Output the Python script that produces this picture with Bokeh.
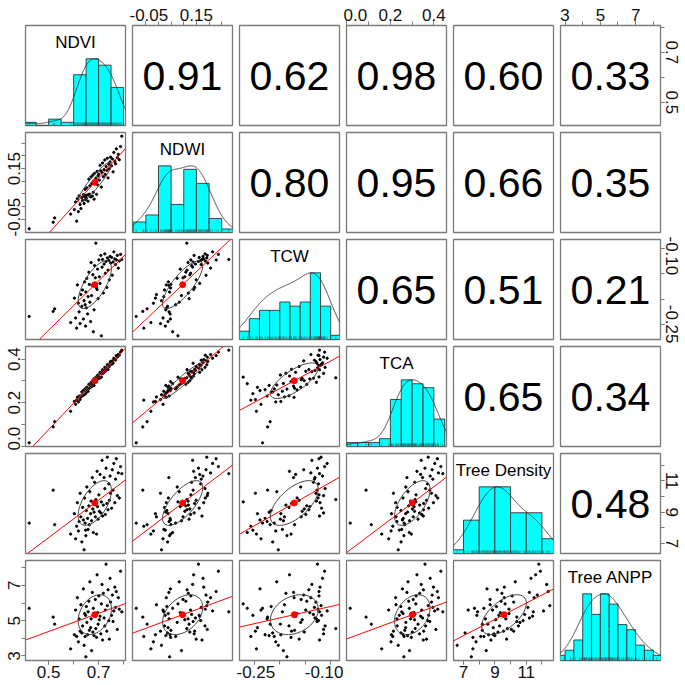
import numpy as np
from bokeh.plotting import figure
from bokeh.layouts import gridplot
from bokeh.models import Range1d, LinearAxis, FixedTicker, Slope, PrintfTickFormatter
from bokeh.embed import file_html
from bokeh.resources import INLINE
from bokeh.core.properties import value

# ---------------- data ----------------
names = ["NDVI", "NDWI", "TCW", "TCA", "Tree Density", "Tree ANPP"]

ndvi = [0.422, 0.518, 0.524, 0.588, 0.603, 0.608, 0.612, 0.615, 0.619, 0.622,
        0.626, 0.629, 0.633, 0.636, 0.639, 0.642, 0.644, 0.646, 0.648, 0.649,
        0.651, 0.653, 0.656, 0.658, 0.661, 0.663, 0.665, 0.668, 0.670, 0.672,
        0.675, 0.677, 0.679, 0.682, 0.684, 0.687, 0.689, 0.692, 0.694, 0.696,
        0.698, 0.701, 0.703, 0.706, 0.709, 0.711, 0.714, 0.716, 0.719, 0.722,
        0.725, 0.727, 0.730, 0.733, 0.735, 0.738, 0.741, 0.743, 0.746, 0.748,
        0.752, 0.755, 0.758, 0.761, 0.765, 0.768, 0.771, 0.775, 0.779, 0.783,
        0.788, 0.793]

ndwi = [-0.088, -0.062, -0.045, -0.030, -0.012, 0.018, -0.058, 0.031, -0.020, 0.042,
        0.008, -0.008, 0.036, 0.024, 0.047, 0.012, 0.039, 0.068, 0.027, 0.044,
        0.033, 0.074, 0.046, 0.021, 0.108, 0.049, 0.082, 0.038, 0.117, 0.091,
        0.041, 0.124, 0.056, 0.029, 0.131, 0.097, 0.112, 0.048, 0.139, 0.086,
        0.121, 0.128, 0.104, 0.163, 0.141, 0.077, 0.135, 0.172, 0.118, 0.146,
        0.184, 0.127, 0.158, 0.143, 0.191, 0.113, 0.167, 0.149, 0.176, 0.195,
        0.161, 0.188, 0.137, 0.214, 0.179, 0.169, 0.228, 0.193, 0.206, 0.185,
        0.237, 0.278]

tcw = [-0.234, -0.224, -0.219, -0.246, -0.198, -0.237, -0.257, -0.172, -0.208, -0.225,
       -0.248, -0.191, -0.214, -0.182, -0.239, -0.203, -0.166, -0.211, -0.253, -0.186,
       -0.217, -0.159, -0.229, -0.195, -0.147, -0.171, -0.206, -0.244, -0.128, -0.193,
       -0.173, -0.152, -0.264, -0.221, -0.134, -0.158, -0.090, -0.178, -0.181, -0.141,
       -0.199, -0.123, -0.156, -0.169, -0.114, -0.272, -0.137, -0.122, -0.188, -0.131,
       -0.111, -0.149, -0.126, -0.177, -0.119, -0.143, -0.124, -0.162, -0.116, -0.129,
       -0.118, -0.153, -0.127, -0.107, -0.121, -0.132, -0.123, -0.114, -0.139, -0.125,
       -0.112, -0.122]

tca = [0.015, 0.088, 0.112, 0.160, 0.205, 0.192, 0.211, 0.224, 0.203, 0.230,
       0.214, 0.226, 0.249, 0.231, 0.255, 0.236, 0.258, 0.263, 0.241, 0.262,
       0.248, 0.271, 0.259, 0.252, 0.284, 0.266, 0.281, 0.270, 0.293, 0.288,
       0.276, 0.301, 0.287, 0.279, 0.312, 0.305, 0.314, 0.296, 0.322, 0.309,
       0.327, 0.318, 0.311, 0.339, 0.334, 0.317, 0.342, 0.351, 0.335, 0.348,
       0.362, 0.344, 0.359, 0.353, 0.374, 0.352, 0.371, 0.366, 0.383, 0.389,
       0.376, 0.392, 0.381, 0.404, 0.398, 0.395, 0.416, 0.409, 0.421, 0.418,
       0.432, 0.441]

tree_density = [8.3, 10.4, 8.2, 7.6, 8.9, 7.3, 8.1, 9.6, 7.8, 8.4,
                10.2, 8.7, 7.1, 9.3, 8.5, 6.6, 9.9, 8.3, 7.85, 7.5,
                9.1, 10.6, 8.6, 7.9, 9.4, 8.2, 10.3, 8.9, 9.7, 8.45,
                11.2, 9.2, 7.7, 9.0, 10.9, 8.7, 9.8, 7.6, 11.6, 9.35,
                8.55, 10.1, 9.05, 11.4, 8.95, 9.65, 12.3, 8.75, 9.45, 11.2,
                10.5, 8.85, 11.8, 9.55, 12.5, 9.15, 10.8, 9.75, 11.3, 10.2,
                9.25, 11.7, 10.4, 12.1, 9.6, 11.1, 12.4, 10.05, 11.5, 9.9,
                11.9, 11.45]

tree_anpp = [5.7, 5.2, 4.8, 3.4, 4.2, 5.6, 4.1, 6.3, 3.8, 5.1,
             4.4, 5.9, 4.3, 4.7, 6.8, 3.6, 5.4, 4.1, 5.3, 2.95,
             5.8, 4.9, 4.2, 5.5, 6.1, 4.45, 7.2, 4.6, 5.1, 3.3,
             6.6, 4.35, 5.7, 4.15, 5.35, 6.2, 4.55, 4.05, 7.6, 5.45,
             4.8, 6.4, 5.05, 5.25, 4.25, 5.95, 7.05, 3.9, 6.55, 5.15,
             4.7, 5.6, 8.2, 4.4, 5.85, 6.75, 5.0, 3.95, 7.4, 6.05,
             5.3, 6.45, 4.95, 5.55, 6.9, 5.75, 6.65, 4.5, 6.3, 5.65,
             7.8, 5.5]

# upper-triangle correlations, row by row
cor_values = [0.91, 0.62, 0.98, 0.60, 0.33,
              0.80, 0.95, 0.66, 0.35,
              0.65, 0.51, 0.21,
              0.65, 0.34,
              0.48]

bin_widths = [0.05, 0.05, 0.02, 0.05, 1.0, 0.5]
labeled_ticks = [[0.5, 0.7], [-0.05, 0.15], [-0.25, -0.10], [0.0, 0.2, 0.4], [7, 9, 11], [3, 5, 7]]
all_ticks = [[0.5, 0.6, 0.7, 0.8],
             [-0.05, 0.0, 0.05, 0.10, 0.15, 0.20, 0.25],
             [-0.25, -0.20, -0.15, -0.10],
             [0.0, 0.1, 0.2, 0.3, 0.4],
             [7, 8, 9, 10, 11, 12],
             [3, 4, 5, 6, 7, 8]]
tick_formats = ["%.1f", "%.2f", "%.2f", "%.1f", "%d", "%d"]

# ---------------- helpers ----------------
FONT = "Liberation Sans"
P = 100
N = 6
BOX = "#7a7a7a"
OUT = 25

data = [np.array(v, float) for v in [ndvi, ndwi, tcw, tca, tree_density, tree_anpp]]
ranges = []
for x in data:
    lo, hi = x.min(), x.max()
    pad = 0.04 * (hi - lo)
    ranges.append((lo - pad, hi + pad))

cor_text = {}
k = 0
for i in range(N):
    for j in range(i + 1, N):
        cor_text[(i, j)] = f"{cor_values[k]:.2f}"
        k += 1


def hist_counts(x, w):
    start = np.floor(x.min() / w + 1e-9) * w
    end = np.ceil(x.max() / w - 1e-9) * w
    nb = int(round((end - start) / w))
    edges = np.round(start + w * np.arange(nb + 1), 10)
    counts = []
    for b in range(nb):
        if b == 0:
            m = (x >= edges[0] - 1e-12) & (x <= edges[1] + 1e-12)
        else:
            m = (x > edges[b] + 1e-12) & (x <= edges[b + 1] + 1e-12)
        counts.append(m.sum())
    return edges, np.array(counts, float)


def density(x):
    n = len(x)
    sd = x.std(ddof=1)
    q1, q3 = np.percentile(x, [25, 75])
    bw = 1.06 * min(sd, (q3 - q1) / 1.34) * n ** -0.2 * 1.2
    gx = np.linspace(x.min() - 3 * bw, x.max() + 3 * bw, 512)
    gy = np.exp(-0.5 * ((gx[:, None] - x[None, :]) / bw) ** 2).sum(axis=1)
    return gx, gy / gy.max()


def add_axis(p, var, side):
    ticker = FixedTicker(ticks=labeled_ticks[var], minor_ticks=all_ticks[var])
    ax = LinearAxis(ticker=ticker, bounds=(min(all_ticks[var]), max(all_ticks[var])),
                    formatter=PrintfTickFormatter(format=tick_formats[var]))
    ax.major_tick_out = 4
    ax.major_tick_in = 0
    ax.minor_tick_out = 4
    ax.minor_tick_in = 0
    ax.major_label_standoff = 1
    ax.major_label_text_font = FONT
    ax.major_label_text_font_size = "17px"
    ax.major_label_text_color = "#111111"
    ax.axis_line_color = BOX
    ax.major_tick_line_color = BOX
    ax.minor_tick_line_color = BOX
    ax.axis_line_width = 1
    if side in ("left", "right"):
        ax.major_label_orientation = "vertical"
    p.add_layout(ax, side)


rows = []
for r in range(N):
    row = []
    for c in range(N):
        xr = Range1d(*ranges[c])
        yr = Range1d(0, 1.5) if r == c else Range1d(*ranges[r])
        p = figure(frame_width=P, frame_height=P, x_range=xr, y_range=yr,
                   output_backend="svg", toolbar_location=None,
                   x_axis_location=None, y_axis_location=None,
                   min_border_left=OUT if c == 0 else 3,
                   min_border_right=OUT if c == N - 1 else 4,
                   min_border_top=OUT if r == 0 else 3,
                   min_border_bottom=OUT if r == N - 1 else 4)
        p.grid.visible = False
        p.outline_line_color = BOX
        p.outline_line_width = 1.3
        p.background_fill_color = "white"
        p.border_fill_color = "white"

        if r == c:
            x = data[c]
            edges, counts = hist_counts(x, bin_widths[c])
            p.quad(left=edges[:-1], right=edges[1:], bottom=0, top=counts / counts.max(),
                   fill_color="#00FFFF", line_color="#333333", line_width=0.9)
            gx, gy = density(x)
            p.line(gx, gy, line_color="#333333", line_width=0.9)
            p.segment(x0=x, y0=np.zeros_like(x), x1=x, y1=np.full_like(x, 0.045),
                      line_color="#444444", line_width=0.5)
            p.text(x=[(ranges[c][0] + ranges[c][1]) / 2], y=[1.5 * (1 - 17.0 / P)],
                   text=[names[c]], text_font=value(FONT), text_font_size="17px",
                   text_align="center", text_baseline="middle", text_color="black")
        elif r > c:
            x = data[c]
            y = data[r]
            p.scatter(x, y, size=2.3, marker="circle", color="black")
            b, a = np.polyfit(x, y, 1)
            p.add_layout(Slope(gradient=b, y_intercept=a, line_color="red", line_width=1))
            xm, ym = x.mean(), y.mean()
            xs, ys = x.std(ddof=1), y.std(ddof=1)
            rr = np.corrcoef(x, y)[0, 1]
            th = np.sign(rr) / np.sqrt(2)
            ang = np.linspace(0, 2 * np.pi, 52)
            u, v = np.cos(ang), np.sin(ang)
            ex = (u * np.sqrt(1 + rr) * th - v * np.sqrt(1 - rr) * th) * xs + xm
            ey = (u * np.sqrt(1 + rr) * th + v * np.sqrt(1 - rr) * th) * ys + ym
            p.scatter([xm], [ym], size=6, marker="circle", color="red")
            p.line(ex, ey, line_color="#444444", line_width=1)
        else:
            p.text(x=[(ranges[c][0] + ranges[c][1]) / 2], y=[(ranges[r][0] + ranges[r][1]) / 2],
                   text=[cor_text[(r, c)]], text_font=value(FONT), text_font_size="41px",
                   text_align="center", text_baseline="middle", text_color="black")

        if r == 0 and c % 2 == 1:
            add_axis(p, c, "above")
        if r == N - 1 and c % 2 == 0:
            add_axis(p, c, "below")
        if c == 0 and r % 2 == 1:
            add_axis(p, r, "left")
        if c == N - 1 and r % 2 == 0:
            add_axis(p, r, "right")
        row.append(p)
    rows.append(row)

grid = gridplot(rows, toolbar_location=None)
open("out.html", "w").write(file_html(grid, INLINE))
